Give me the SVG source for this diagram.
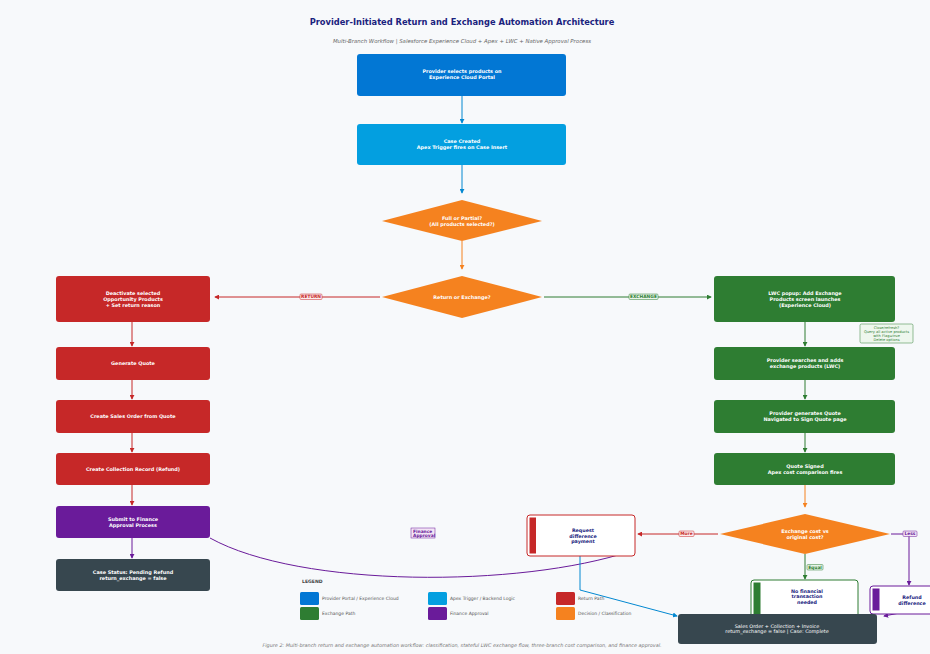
<svg xmlns="http://www.w3.org/2000/svg" width="930" height="654" viewBox="0 0 930 654">
<defs>
<marker id="aBlue" viewBox="0 0 6 6" refX="5" refY="3" markerWidth="5" markerHeight="5" orient="auto"><path d="M0,0L6,3L0,6z" fill="#0288d1"/></marker>
<marker id="aOr" viewBox="0 0 6 6" refX="5" refY="3" markerWidth="5" markerHeight="5" orient="auto"><path d="M0,0L6,3L0,6z" fill="#f5821f"/></marker>
<marker id="aRed" viewBox="0 0 6 6" refX="5" refY="3" markerWidth="5" markerHeight="5" orient="auto"><path d="M0,0L6,3L0,6z" fill="#c62828"/></marker>
<marker id="aGreen" viewBox="0 0 6 6" refX="5" refY="3" markerWidth="5" markerHeight="5" orient="auto"><path d="M0,0L6,3L0,6z" fill="#2e7d32"/></marker>
<marker id="aPur" viewBox="0 0 6 6" refX="5" refY="3" markerWidth="5" markerHeight="5" orient="auto"><path d="M0,0L6,3L0,6z" fill="#6a1b9a"/></marker>
</defs>
<style>
text{font-family:"DejaVu Sans","Liberation Sans",sans-serif;}
.t{font-size:4.9px;font-weight:bold;fill:#fff;text-anchor:middle;}
.td{font-size:4.8px;font-weight:bold;fill:#1a237e;text-anchor:middle;}
.lg{font-size:4.5px;fill:#555;}
.lbl{font-size:4.4px;font-weight:bold;text-anchor:middle;}
.c{fill:none;stroke-width:1;}
</style>
<rect width="930" height="654" fill="#f7f9fb"/>
<text x="462" y="25" style="font-size:8.3px;font-weight:bold;fill:#1a237e;text-anchor:middle">Provider-Initiated Return and Exchange Automation Architecture</text>
<text x="462" y="43" style="font-size:5.4px;font-style:italic;fill:#666;text-anchor:middle">Multi-Branch Workflow  |  Salesforce Experience Cloud + Apex + LWC + Native Approval Process</text>

<g id="connectors">
<line class="c" x1="462" y1="96" x2="462" y2="123" stroke="#0288d1" marker-end="url(#aBlue)"/>
<line class="c" x1="462" y1="165" x2="462" y2="193" stroke="#0288d1" marker-end="url(#aBlue)"/>
<line class="c" x1="462" y1="241" x2="462" y2="269" stroke="#f5821f" marker-end="url(#aOr)"/>
<line class="c" x1="380" y1="297" x2="215" y2="297" stroke="#c62828" marker-end="url(#aRed)"/>
<rect x="300" y="294" width="22" height="5.5" rx="1" fill="#fdecec" stroke="#c62828" stroke-width="0.5"/>
<text class="lbl" x="311" y="298.3" fill="#c62828">RETURN</text>
<line class="c" x1="544" y1="297" x2="711" y2="297" stroke="#2e7d32" marker-end="url(#aGreen)"/>
<rect x="629" y="294" width="29" height="5.5" rx="1" fill="#e8f5e9" stroke="#2e7d32" stroke-width="0.5"/>
<text class="lbl" x="643.5" y="298.3" fill="#2e7d32">EXCHANGE</text>
<line class="c" x1="132" y1="322" x2="132" y2="346" stroke="#c62828" marker-end="url(#aRed)"/>
<line class="c" x1="132" y1="380" x2="132" y2="399" stroke="#c62828" marker-end="url(#aRed)"/>
<line class="c" x1="132" y1="433" x2="132" y2="452" stroke="#c62828" marker-end="url(#aRed)"/>
<line class="c" x1="132" y1="485" x2="132" y2="505" stroke="#c62828" marker-end="url(#aRed)"/>
<line class="c" x1="132" y1="538" x2="132" y2="558" stroke="#6a1b9a" marker-end="url(#aPur)"/>
<path class="c" d="M210,538 C300,588 520,588 631,551" stroke="#6a1b9a"/>
<rect x="411" y="528" width="24" height="10" fill="#f3e5f5" stroke="#6a1b9a" stroke-width="0.5"/>
<text x="413" y="532.5" style="font-size:4.4px;font-weight:bold;fill:#6a1b9a">Finance</text>
<text x="413" y="537" style="font-size:4.4px;font-weight:bold;fill:#6a1b9a">Approval</text>
<line class="c" x1="805" y1="322" x2="805" y2="346" stroke="#2e7d32" marker-end="url(#aGreen)"/>
<line class="c" x1="805" y1="380" x2="805" y2="399" stroke="#2e7d32" marker-end="url(#aGreen)"/>
<line class="c" x1="805" y1="433" x2="805" y2="452" stroke="#2e7d32" marker-end="url(#aGreen)"/>
<line class="c" x1="805" y1="485" x2="805" y2="507" stroke="#f5821f" marker-end="url(#aOr)"/>
<line class="c" x1="718" y1="534" x2="638" y2="534" stroke="#c62828" marker-end="url(#aRed)"/>
<rect x="679" y="531" width="15" height="5.5" rx="1" fill="#fdecec" stroke="#c62828" stroke-width="0.5"/>
<text class="lbl" x="686.5" y="535.3" fill="#c62828">More</text>
<polyline class="c" points="891,534 909,534 909,585" stroke="#6a1b9a" marker-end="url(#aPur)"/>
<rect x="903" y="531" width="14" height="5.5" rx="1" fill="#f3e5f5" stroke="#6a1b9a" stroke-width="0.5"/>
<text class="lbl" x="910" y="535.3" fill="#6a1b9a">Less</text>
<line class="c" x1="805" y1="554" x2="805" y2="579" stroke="#2e7d32" marker-end="url(#aGreen)"/>
<rect x="807" y="564.5" width="16" height="5.5" rx="1" fill="#e8f5e9" stroke="#2e7d32" stroke-width="0.5"/>
<text class="lbl" x="815" y="568.8" fill="#2e7d32">Equal</text>
<polyline class="c" points="580,532 580,590 677,616" stroke="#0288d1" marker-end="url(#aBlue)"/>
<line class="c" x1="910" y1="611" x2="884" y2="616" stroke="#6a1b9a" marker-end="url(#aPur)"/>
</g>

<g id="n-portal"><rect x="357" y="54" width="209" height="42" rx="3" fill="#0277d4"/>
<text class="t" x="462" y="73">Provider selects products on</text><text class="t" x="462" y="79">Experience Cloud Portal</text></g>
<g id="n-case"><rect x="357" y="124" width="209" height="41" rx="3" fill="#039fe0"/>
<text class="t" x="462" y="143">Case Created</text><text class="t" x="462" y="149">Apex Trigger fires on Case Insert</text></g>
<g id="d-full"><polygon points="382,221 462,200 542,221 462,241" fill="#f5821f"/>
<text class="t" x="462" y="219.5">Full or Partial?</text><text class="t" x="462" y="225.5">(All products selected?)</text></g>
<g id="d-return"><polygon points="382,297 462,276 542,297 462,318" fill="#f5821f"/>
<text class="t" x="462" y="299">Return or Exchange?</text></g>

<g id="n-deactivate"><rect x="56" y="276" width="154" height="46" rx="3" fill="#c62828"/>
<text class="t" x="133" y="295">Deactivate selected</text><text class="t" x="133" y="301">Opportunity Products</text><text class="t" x="133" y="307">+ Set return reason</text></g>
<g id="n-quote"><rect x="56" y="347" width="154" height="33" rx="3" fill="#c62828"/><text class="t" x="133" y="365">Generate Quote</text></g>
<g id="n-so"><rect x="56" y="400" width="154" height="33" rx="3" fill="#c62828"/><text class="t" x="133" y="418">Create Sales Order from Quote</text></g>
<g id="n-coll"><rect x="56" y="453" width="154" height="32" rx="3" fill="#c62828"/><text class="t" x="133" y="470.5">Create Collection Record (Refund)</text></g>
<g id="n-finance"><rect x="56" y="506" width="154" height="32" rx="3" fill="#6a1b9a"/>
<text class="t" x="133" y="521">Submit to Finance</text><text class="t" x="133" y="527">Approval Process</text></g>
<g id="n-pending"><rect x="56" y="559" width="154" height="32" rx="3" fill="#37474f"/>
<text class="t" x="133" y="574">Case Status: Pending Refund</text><text class="t" x="133" y="580">return_exchange = false</text></g>

<g id="n-lwc"><rect x="714" y="276" width="181" height="46" rx="3" fill="#2e7d32"/>
<text class="t" x="805" y="295">LWC popup: Add Exchange</text><text class="t" x="805" y="301">Products screen launches</text><text class="t" x="805" y="307">(Experience Cloud)</text></g>
<g id="note"><rect x="860" y="324" width="53" height="19" rx="1.5" fill="#eef7ee" stroke="#2e7d32" stroke-width="0.5"/>
<text x="886.5" y="328.5" style="font-size:3.6px;fill:#2e7d32;text-anchor:middle">Close/refresh?</text>
<text x="886.5" y="332.5" style="font-size:3.6px;fill:#2e7d32;text-anchor:middle">Query all active products</text>
<text x="886.5" y="336.5" style="font-size:3.6px;fill:#2e7d32;text-anchor:middle">with Flag=true</text>
<text x="886.5" y="340.5" style="font-size:3.6px;fill:#2e7d32;text-anchor:middle">Delete options</text></g>
<g id="n-search"><rect x="714" y="347" width="181" height="33" rx="3" fill="#2e7d32"/>
<text class="t" x="805" y="362">Provider searches and adds</text><text class="t" x="805" y="368">exchange products (LWC)</text></g>
<g id="n-genquote"><rect x="714" y="400" width="181" height="33" rx="3" fill="#2e7d32"/>
<text class="t" x="805" y="415">Provider generates Quote</text><text class="t" x="805" y="421">Navigated to Sign Quote page</text></g>
<g id="n-signed"><rect x="714" y="453" width="181" height="32" rx="3" fill="#2e7d32"/>
<text class="t" x="805" y="468">Quote Signed</text><text class="t" x="805" y="474">Apex cost comparison fires</text></g>
<g id="d-cost"><polygon points="720,534 805,514 890,534 805,554" fill="#f5821f"/>
<text class="t" x="805" y="532.5">Exchange cost vs</text><text class="t" x="805" y="538.5">original cost?</text></g>

<g id="n-request"><rect x="527" y="515" width="108" height="41" rx="3" fill="#fff" stroke="#c62828" stroke-width="1"/>
<rect x="529.5" y="517.5" width="6.5" height="36" fill="#c62828"/>
<text class="td" x="583" y="532">Request</text><text class="td" x="583" y="537.5">difference</text><text class="td" x="583" y="543">payment</text></g>
<g id="n-nofin"><rect x="751" y="580" width="107" height="38" rx="3" fill="#fff" stroke="#2e7d32" stroke-width="1"/>
<rect x="753.5" y="582.5" width="7" height="32" fill="#2e7d32"/>
<text class="td" x="807" y="592.5">No financial</text><text class="td" x="807" y="598">transaction</text><text class="td" x="807" y="603.5">needed</text></g>
<g id="n-refund"><rect x="870" y="586" width="70" height="28" rx="3" fill="#fff" stroke="#6a1b9a" stroke-width="1"/>
<rect x="872.5" y="588.5" width="7" height="22" fill="#6a1b9a"/>
<text class="td" x="912" y="599">Refund</text><text class="td" x="912" y="604.5">difference</text></g>
<g id="n-complete"><rect x="678" y="614" width="199" height="30" rx="3" fill="#37474f"/>
<text class="t" x="777" y="627.5" style="font-weight:normal">Sales Order + Collection + Invoice</text>
<text class="t" x="777" y="633" style="font-weight:normal">return_exchange = false  |  Case: Complete</text></g>

<g id="legend">
<text x="302" y="582.5" style="font-size:4.6px;font-weight:bold;fill:#444">LEGEND</text>
<rect x="300" y="592" width="19" height="13" rx="1.5" fill="#0277d4"/><text class="lg" x="322" y="600">Provider Portal / Experience Cloud</text>
<rect x="428" y="592" width="19" height="13" rx="1.5" fill="#039fe0"/><text class="lg" x="450" y="600">Apex Trigger / Backend Logic</text>
<rect x="556" y="592" width="19" height="13" rx="1.5" fill="#c62828"/><text class="lg" x="578" y="600">Return Path</text>
<rect x="300" y="607" width="19" height="13" rx="1.5" fill="#2e7d32"/><text class="lg" x="322" y="615">Exchange Path</text>
<rect x="428" y="607" width="19" height="13" rx="1.5" fill="#6a1b9a"/><text class="lg" x="450" y="615">Finance Approval</text>
<rect x="556" y="607" width="19" height="13" rx="1.5" fill="#f5821f"/><text class="lg" x="578" y="615">Decision / Classification</text>
</g>
<text x="462" y="647" style="font-size:4.9px;font-style:italic;fill:#777;text-anchor:middle">Figure 2: Multi-branch return and exchange automation workflow: classification, stateful LWC exchange flow, three-branch cost comparison, and finance approval.</text>
</svg>
